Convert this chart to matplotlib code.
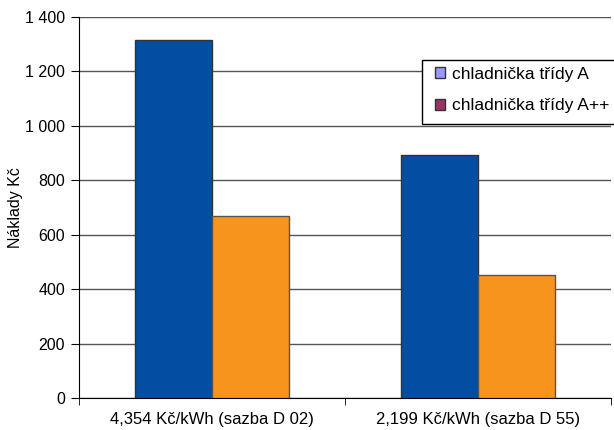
import numpy as np
import matplotlib.pyplot as plt
from matplotlib.patches import Patch, Rectangle
from matplotlib.ticker import FuncFormatter, FixedLocator

plt.rcParams['font.family'] = ['Liberation Sans', 'DejaVu Sans']

# naklady za rok pri dvou sazbach
sazby = ['4,354 Kč/kWh (sazba D 02)', '2,199 Kč/kWh (sazba D 55)']
trida_a = [1315, 893]
trida_a_pp = [667, 452]
legenda = ['chladnička třídy A', 'chladnička třídy A++']

W, H = 614, 430
fig = plt.figure(figsize=(W / 100, H / 100), dpi=100)
ax = fig.add_axes([79 / W, 1 - 398 / H, 532 / W, 381 / H])

x = np.arange(len(sazby))
w = 0.29
ax.bar(x - w / 2, trida_a, w, color='#034EA2', edgecolor='#333333', linewidth=1, zorder=3)
ax.bar(x + w / 2, trida_a_pp, w, color='#F7941E', edgecolor='#555555', linewidth=1, zorder=3)

ax.set_xlim(-0.5, 1.5)
ax.set_ylim(0, 1400)
ax.set_yticks(np.arange(0, 1401, 200))
ax.yaxis.set_major_formatter(FuncFormatter(lambda v, p: f'{int(v):,}'.replace(',', ' ')))
ax.grid(axis='y', color='#555555', linewidth=1, zorder=0)

ax.set_xticks(x)
ax.set_xticklabels(sazby)
ax.xaxis.set_minor_locator(FixedLocator([-0.5, 0.5, 1.5]))
ax.tick_params(axis='x', which='major', length=0, pad=10, labelsize=12)
ax.tick_params(axis='x', which='minor', length=5, color='black')
ax.tick_params(axis='y', length=6, labelsize=11.5, pad=4)

for s in ['top', 'right']:
    ax.spines[s].set_visible(False)
ax.spines['left'].set_color('black')
ax.spines['bottom'].set_color('black')

ax.set_ylabel('Náklady Kč', fontsize=11.5)
ax.yaxis.set_label_coords(-0.105, 0.5)

# ramecek legendy
fig.patches.append(Rectangle((422 / W, 1 - 124 / H), 200 / W, 64 / H, transform=fig.transFigure,
                             facecolor='white', edgecolor='black', linewidth=1, zorder=5))

handles = [Patch(facecolor='#9999FF', edgecolor='#333333'),
           Patch(facecolor='#993366', edgecolor='#333333')]
leg = fig.legend(handles, legenda, loc='upper left', bbox_to_anchor=(435 / W, 1 - 67 / H),
                 fontsize=12.5, frameon=False,
                 handlelength=0.6, handleheight=0.6, handletextpad=0.4,
                 labelspacing=0.95, borderpad=0, borderaxespad=0)
leg.set_zorder(6)

fig.savefig('out.png', dpi=100)
